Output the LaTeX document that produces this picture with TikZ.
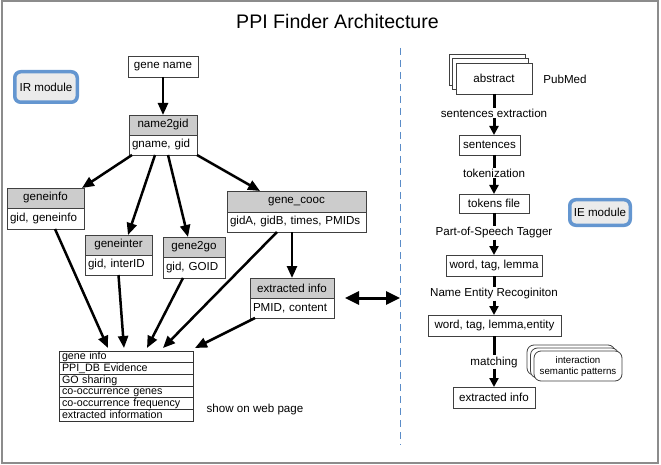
\documentclass[tikz,border=0pt]{standalone}
\usepackage{fontspec}
\setmainfont{Liberation Sans}
\usepackage{tikz}
\usetikzlibrary{positioning,arrows.meta,shadows}
\definecolor{modulblue}{RGB}{100,150,208}
\definecolor{sepblue}{RGB}{90,140,200}

\begin{document}
\begin{tikzpicture}[x=1pt,y=-1pt, font=\fontsize{11.6}{13}\selectfont,
		box/.style={draw=black!75, line width=0.8pt, fill=white, inner sep=2pt, outer sep=0pt, minimum height=20pt},
		thead/.style={box, fill=black!20},
		tbody/.style={box, align=left, inner xsep=3pt},
		modbox/.style={draw=modulblue, line width=3.5pt, fill=black!8, rounded corners=6pt},
		listrow/.style={draw=black!80, line width=0.8pt, outer sep=0pt, minimum height=11.667pt, text width=128pt, inner xsep=3pt, inner ysep=0pt, align=left, text height=8pt, text depth=2.3pt, font=\fontsize{10.7}{12}\selectfont},
		flowlabel/.style={inner sep=1pt},
		bigarrow/.style={line width=2.5pt, -{Triangle[length=12pt,width=10pt]}},
		flowline/.style={line width=3pt},
		flowarrow/.style={line width=3pt, -{Triangle[length=9pt,width=9pt]}}]
	\useasboundingbox (0,0) rectangle (661,465);
	\draw[black!45, line width=1.2pt] (2,1) rectangle (658,463);
	\node (title) at (337.5,21) {\fontsize{19.6}{22}\selectfont PPI Finder Architecture};
	% separator
	\draw[sepblue, line width=1pt, dash pattern=on 7pt off 5pt] (400,48) -- (400,445);
	
	% IR module
	\node[modbox, minimum width=62.5pt, minimum height=30.5pt] (ir) at (46,87) {IR module};
	\node[box, minimum width=70pt, minimum height=21pt] (genename) at (163,66.5) {gene name};
	\node[thead, minimum width=68pt] (n2g) at (163,125) {name2gid};
	\node[tbody, text width=62pt, below=0pt of n2g] (n2gb) {gname, gid};
	\node[thead, minimum width=77pt] (geneinfo) at (45.5,198) {geneinfo};
	\node[tbody, text width=71pt, minimum height=21pt, below=0pt of geneinfo] (geneinfob) {gid, geneinfo};
	\node[thead, minimum width=139pt, minimum height=21pt] (cooc) at (296.5,201.5) {gene\_cooc};
	\node[tbody, text width=133pt, below=0pt of cooc] (coocb) {gidA, gidB, times, PMIDs};
	\node[thead, minimum width=67pt] (inter) at (118.5,245) {geneinter};
	\node[tbody, text width=61pt, below=0pt of inter] (interb) {gid, interID};
	\node[thead, minimum width=62pt] (gogo) at (194,247) {gene2go};
	\node[tbody, text width=56pt, minimum height=21pt, below=0pt of gogo] (gogob) {gid, GOID};
	\node[thead, minimum width=84pt] (ext) at (292,288) {extracted info};
	\node[tbody, text width=78pt, below=0pt of ext] (extb) {PMID, content};
	\foreach \txt [count=\i] in {gene info, PPI\_DB Evidence, GO sharing, co-occurrence genes, co-occurrence frequency, extracted information}
		\node[listrow] (row\i) at (126,{345.17+11.667*\i}) {\txt};
	\node (web) at (255,409) {show on web page};
	
	\draw[bigarrow] (genename.south) -- (n2g.north);
	\draw[bigarrow] ([xshift=3pt]n2gb.south west) -- ([xshift=-2pt]geneinfo.north east);
	\draw[bigarrow] ([xshift=26pt]n2gb.south west) -- ([xshift=9.5pt]inter.north);
	\draw[bigarrow] ([xshift=39pt]n2gb.south west) -- ([xshift=-6pt]gogo.north);
	\draw[bigarrow] (n2gb.south east) -- ([xshift=33pt]cooc.north west);
	\draw[bigarrow] ([xshift=9.5pt]geneinfob.south) -- ([xshift=-18pt,yshift=3pt]row1.north);
	\draw[bigarrow] (interb.south) -- ([xshift=-2pt,yshift=3pt]row1.north);
	\draw[bigarrow] ([xshift=-11pt]gogob.south) -- ([xshift=21pt,yshift=3pt]row1.north);
	\draw[bigarrow] ([xshift=-19.5pt]coocb.south) -- ([xshift=37pt,yshift=3pt]row1.north);
	\draw[bigarrow] (coocb.south -| ext.north) -- (ext.north);
	\draw[bigarrow] ([xshift=5pt]extb.south west) -- ([xshift=2pt,yshift=3pt]row1.north east);
	
	% IE module
	\coordinate (sep) at (400,298);
	\draw[line width=3pt, {Triangle[length=14pt,width=13pt]}-{Triangle[length=14pt,width=13pt]}] ([xshift=11pt]ext.south east) -- (sep);
	\node[modbox, minimum width=60.5pt, minimum height=25.5pt] (ie) at (600,212.5) {IE module};
	\node[box, minimum width=76pt, minimum height=31pt, double copy shadow={shadow xshift=-3.5pt, shadow yshift=4.5pt}] (abstract) at (494,78.5) {abstract};
	\node (pubmed) at (565,79) {PubMed};
	\node[box, minimum width=61pt] (sentences) at (489.5,145) {sentences};
	\node[box, minimum width=70pt, minimum height=19pt] (tokens) at (494,203.5) {tokens file};
	\node[box, minimum width=96pt, minimum height=21pt] (wtl) at (494,265.5) {word, tag, lemma};
	\node[box, minimum width=133pt, minimum height=21pt] (wtle) at (494.5,325.5) {word, tag, lemma,entity};
	\node[box, minimum width=82pt, minimum height=21pt] (extr) at (494,397.5) {extracted info};
	\node[box, rounded corners=7pt, minimum width=88pt, minimum height=30pt, align=center, font=\fontsize{9.7}{11}\selectfont, double copy shadow={shadow xshift=-3.5pt, shadow yshift=3pt}] (patterns) at (578,366) {interaction\\semantic patterns};
	\node[flowlabel] (l1) at (494,113) {sentences extraction};
	\node[flowlabel] (l2) at (494,173) {tokenization};
	\node[flowlabel] (l3) at (494,233) {Part-of-Speech Tagger};
	\node[flowlabel] (l4) at (494,294) {Name Entity Recoginiton};
	\node[flowlabel] (l5) at (494,362) {matching};
	
	\draw[flowline] (abstract.south) -- (l1.north);
	\draw[flowarrow] (l1.south) -- (sentences.north -| l1.south);
	\draw[flowline] (sentences.south -| l2.north) -- (l2.north);
	\draw[flowarrow] (l2.south) -- (tokens.north);
	\draw[flowline] (tokens.south) -- (l3.north);
	\draw[flowarrow] (l3.south) -- (wtl.north);
	\draw[flowline] (wtl.south) -- (l4.north);
	\draw[flowarrow] (l4.south) -- (wtle.north -| l4.south);
	\draw[flowline] (wtle.south -| l5.north) -- (l5.north);
	\draw[flowarrow] (l5.south) -- (extr.north);
\end{tikzpicture}
\end{document}
